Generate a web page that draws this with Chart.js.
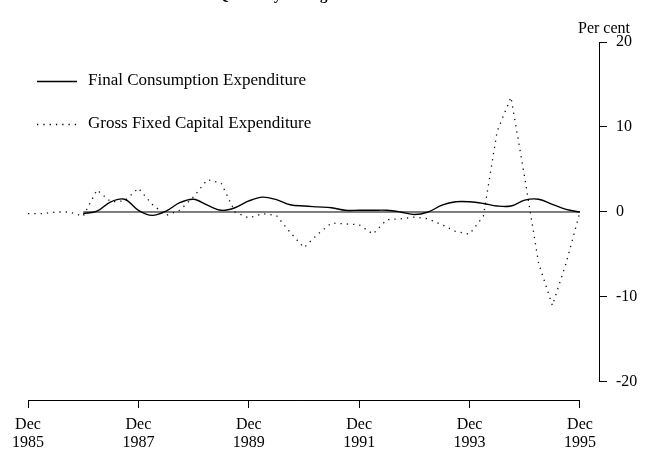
<!DOCTYPE html>
<html>
<head>
<meta charset="utf-8">
<script src="https://cdn.jsdelivr.net/npm/chart.js@4/dist/chart.umd.min.js"></script>
<style>
  html, body { margin: 0; padding: 0; background: #fff; }
</style>
</head>
<body>
<canvas id="chart" width="668" height="454"></canvas>
<script>
const quarters = [
  "Dec 1985", "Mar 1986", "Jun 1986", "Sep 1986", "Dec 1986", "Mar 1987", "Jun 1987", "Sep 1987",
  "Dec 1987", "Mar 1988", "Jun 1988", "Sep 1988", "Dec 1988", "Mar 1989", "Jun 1989", "Sep 1989",
  "Dec 1989", "Mar 1990", "Jun 1990", "Sep 1990", "Dec 1990", "Mar 1991", "Jun 1991", "Sep 1991",
  "Dec 1991", "Mar 1992", "Jun 1992", "Sep 1992", "Dec 1992", "Mar 1993", "Jun 1993", "Sep 1993",
  "Dec 1993", "Mar 1994", "Jun 1994", "Sep 1994", "Dec 1994", "Mar 1995", "Jun 1995", "Sep 1995",
  "Dec 1995"
];

// quarterly % change
const consumption = [
  null, null, null, null, -0.2, 0.1, 1.2, 1.5,
  0.2, -0.4, 0.1, 1.1, 1.5, 0.8, 0.2, 0.5,
  1.3, 1.75, 1.45, 0.85, 0.7, 0.6, 0.5, 0.2,
  0.2, 0.2, 0.2, 0.0, -0.3, 0.0, 0.8, 1.2,
  1.2, 1.0, 0.7, 0.7, 1.4, 1.5, 0.9, 0.3,
  0.0
];

const grossFixedCapital = [
  -0.2, -0.2, 0.0, 0.0, -0.5, 2.6, 1.2, 1.3,
  2.8, 0.9, -0.4, 0.2, 1.8, 3.8, 3.4, 0.0,
  -0.7, -0.2, -0.4, -2.4, -4.2, -2.6, -1.3, -1.4,
  -1.5, -2.6, -0.9, -0.8, -0.6, -0.8, -1.5, -2.3,
  -2.6, -0.5, 9.5, 13.5, 4.0, -6.0, -11.0, -6.0,
  0.0
];

// the zero rule runs from Dec 1986 to Dec 1995
const zeroRule = [{ x: 4, y: 0 }, { x: 40, y: 0 }];

const seriesNames = ["Final Consumption Expenditure", "Gross Fixed Capital Expenditure"];
const xTickValues = [0, 8, 16, 24, 32, 40];
const xTickLabels = [["Dec", "1985"], ["Dec", "1987"], ["Dec", "1989"], ["Dec", "1991"], ["Dec", "1993"], ["Dec", "1995"]];
const yTickValues = [-20, -10, 0, 10, 20];

const SERIF = "'Liberation Serif', 'Times New Roman', serif";
Chart.defaults.font.family = SERIF;
Chart.defaults.font.size = 16;
Chart.defaults.color = "#000";

const toXY = arr => arr.map((v, i) => ({ x: i, y: v }));

// axis lines, legend and loose text
const frame = {
  id: "frame",
  afterDraw(chart) {
    const { ctx, chartArea, scales } = chart;
    const xs = scales.x, ys = scales.y;
    ctx.save();
    ctx.strokeStyle = "#000";
    ctx.lineWidth = 1;
    ctx.beginPath();
    const ax = Math.round(chartArea.right) + 0.5;
    ctx.moveTo(ax, ys.getPixelForValue(yTickValues[yTickValues.length - 1]));
    ctx.lineTo(ax, ys.getPixelForValue(yTickValues[0]));
    const ay = Math.round(chartArea.bottom) + 0.5;
    ctx.moveTo(xs.getPixelForValue(xTickValues[0]), ay);
    ctx.lineTo(xs.getPixelForValue(xTickValues[xTickValues.length - 1]), ay);
    ctx.stroke();

    // legend
    const ds = chart.data.datasets;
    [0, 1].forEach((k, row) => {
      const y = 81 + row * 43;
      ctx.beginPath();
      ctx.lineWidth = ds[k].borderWidth;
      ctx.setLineDash(ds[k].borderDash || []);
      ctx.moveTo(37, y + 0.5);
      ctx.lineTo(77, y + 0.5);
      ctx.stroke();
      ctx.setLineDash([]);
      ctx.fillStyle = "#000";
      ctx.font = "17px " + SERIF;
      ctx.textBaseline = "middle";
      ctx.textAlign = "left";
      ctx.fillText(ds[k].label, 88, y);
    });

    ctx.font = "16px " + SERIF;
    ctx.textBaseline = "alphabetic";
    ctx.fillText("Per cent", 578, 33);

    // title, mostly cut off by the top edge
    ctx.font = "bold 15px " + SERIF;
    ctx.fillText("Quarterly Change", 217, 0);
    ctx.restore();
  }
};

new Chart(document.getElementById("chart"), {
  type: "line",
  data: {
    datasets: [
      {
        label: seriesNames[0],
        data: toXY(consumption),
        borderColor: "#000",
        borderWidth: 1.4,
        pointRadius: 0,
        tension: 0.35,
        spanGaps: false
      },
      {
        label: seriesNames[1],
        data: toXY(grossFixedCapital),
        borderColor: "#111",
        borderWidth: 1.3,
        borderDash: [1.3, 5],
        pointRadius: 0,
        tension: 0
      },
      {
        label: "zero",
        data: zeroRule,
        borderColor: "#000",
        borderWidth: 1,
        pointRadius: 0
      }
    ]
  },
  options: {
    responsive: false,
    animation: false,
    layout: { padding: { left: 28, top: 42, right: 0, bottom: 0 } },
    plugins: {
      legend: { display: false },
      tooltip: { enabled: false },
      title: { display: false }
    },
    scales: {
      x: {
        type: "linear",
        min: 0,
        max: 41.38,
        border: { display: false },
        grid: { drawOnChartArea: false, drawTicks: true, tickLength: 8, color: "#000" },
        afterBuildTicks: s => { s.ticks = xTickValues.map(v => ({ value: v })); },
        afterFit: s => { s.height = 54; },
        ticks: {
          autoSkip: false,
          maxRotation: 0,
          padding: 8,
          font: { size: 16, lineHeight: 1.1 },
          callback: v => xTickLabels[xTickValues.indexOf(v)]
        }
      },
      y: {
        position: "right",
        min: -22.12,
        max: 20,
        border: { display: false },
        grid: { drawOnChartArea: false, drawTicks: true, tickLength: 8, color: "#000" },
        afterBuildTicks: s => { s.ticks = yTickValues.map(v => ({ value: v })); },
        afterFit: s => { s.width = 69; },
        ticks: {
          padding: 9,
          font: { size: 16 },
          callback: v => String(v)
        }
      }
    }
  },
  plugins: [frame]
});
</script>
</body>
</html>
